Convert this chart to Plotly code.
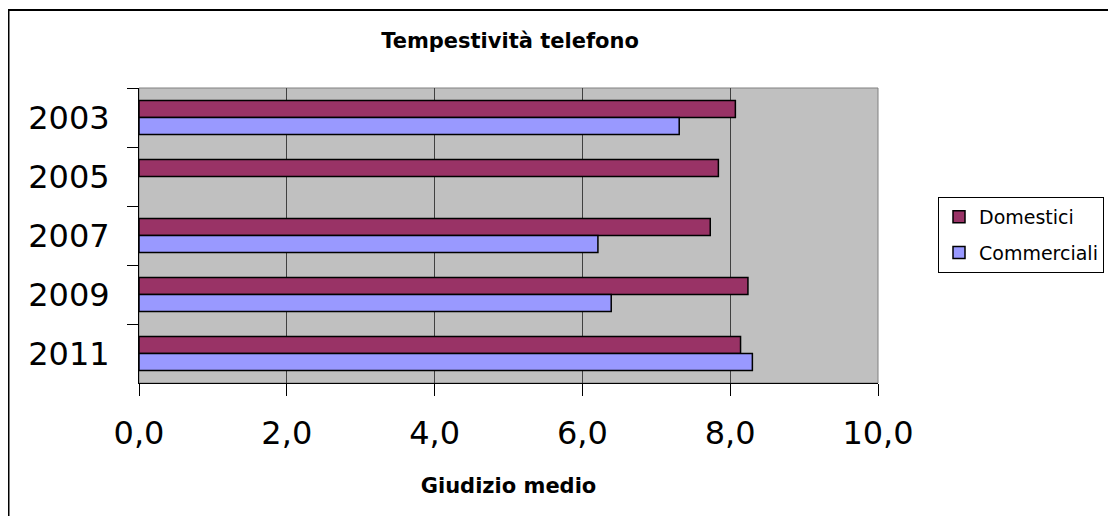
import plotly.graph_objects as go

years = ["2003", "2005", "2007", "2009", "2011"]
domestici = [8.07, 7.84, 7.73, 8.24, 8.14]
commerciali = [7.31, None, 6.21, 6.39, 8.30]
x_ticks = [0, 2, 4, 6, 8, 10]

# the page adds an 8px body margin, so figure coords = page coords - 8
OFF = 8
W, H = 1116 - OFF, 516 - OFF
L, R, T, B = 139 - OFF, 878 - OFF, 88 - OFF, 383 - OFF
pw, ph = R - L, B - T

def px(x):
    return (x - OFF - L) / pw

def py(y):
    return (B - (y - OFF)) / ph

fig = go.Figure()
fig.add_trace(go.Bar(y=years, x=domestici, orientation="h", name="Domestici", legendgroup="d",
                     marker=dict(color="#993366", line=dict(color="black", width=1.5))))
fig.add_trace(go.Bar(y=years, x=commerciali, orientation="h", name="Commerciali", legendgroup="c",
                     marker=dict(color="#9999FF", line=dict(color="black", width=1.5))))

fig.update_layout(
    width=W, height=H,
    margin=dict(l=L, r=W - R, t=T, b=H - B, pad=0),
    paper_bgcolor="white",
    plot_bgcolor="#C0C0C0",
    barmode="group",
    bargap=0.42,
    bargroupgap=0,
    separators=",.",
    font=dict(family="DejaVu Sans", color="black"),
    title=dict(text="<b>Tempestività telefono</b>", x=(510 - OFF) / W, xanchor="center",
               y=1 - (41 - OFF) / H, yanchor="middle", font=dict(size=21, family="DejaVu Sans")),
    showlegend=True,
    legend=dict(x=px(938), y=py(197), xanchor="left", yanchor="top",
                bordercolor="black", borderwidth=1, bgcolor="white",
                font=dict(size=19, family="DejaVu Sans"), traceorder="grouped",
                itemwidth=30, tracegroupgap=8),
    xaxis=dict(range=[0, 10], tickvals=x_ticks, tickformat=".1f",
               showgrid=True, gridcolor="#404040", gridwidth=1,
               showline=True, linecolor="black", linewidth=1,
               ticks="outside", ticklen=12, tickcolor="black",
               tickfont=dict(size=32, family="DejaVu Sans"), ticklabelstandoff=10,
               zeroline=False, fixedrange=True,
               title=dict(text="<b>Giudizio medio</b>", font=dict(size=21, family="DejaVu Sans"), standoff=26)),
    yaxis=dict(categoryorder="array", categoryarray=years, autorange="reversed",
               showline=True, linecolor="black", linewidth=1,
               ticks="outside", ticklen=11, tickcolor="black", tickson="boundaries",
               tickfont=dict(size=32, family="DejaVu Sans"), ticklabelstandoff=22,
               showgrid=False),
)

# plot-area border (gray)
fig.add_shape(type="rect", xref="paper", yref="paper", x0=0, x1=1, y0=0, y1=1,
              line=dict(color="#808080", width=1), layer="below")
# outer chart frame (left and top edges visible)
fig.add_shape(type="rect", xref="paper", yref="paper",
              x0=px(8.5), x1=px(1300), y0=py(700), y1=py(10),
              line=dict(color="black", width=2))

fig.write_html("out.html")
